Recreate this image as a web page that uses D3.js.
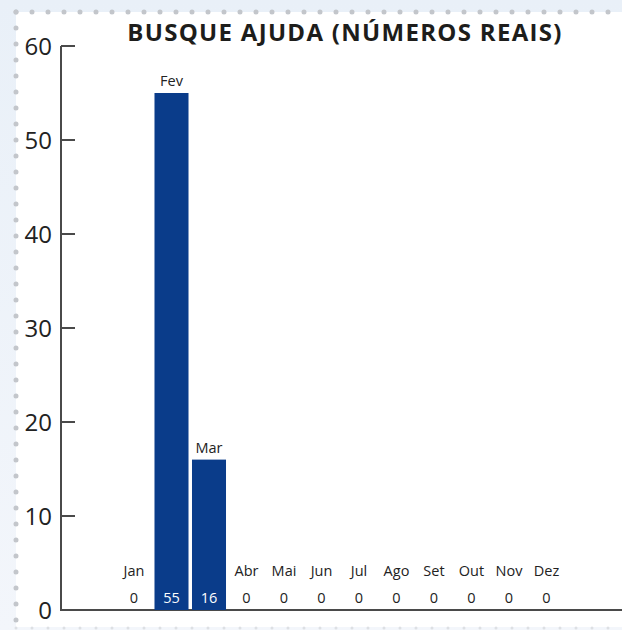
<!DOCTYPE html>
<html>
<head>
<meta charset="utf-8">
<script src="https://cdn.jsdelivr.net/npm/d3@7"></script>
<style>
    body { margin: 0; background: #fff; }
    svg { display: block; font-family: "Open Sans", sans-serif; }
</style>
</head>
<body>
<div id="chart"></div>
<script>
// data
const months = ["Jan", "Fev", "Mar", "Abr", "Mai", "Jun", "Jul", "Ago", "Set", "Out", "Nov", "Dez"]
const counts = [0, 55, 16, 0, 0, 0, 0, 0, 0, 0, 0, 0]
const yTicks = [0, 10, 20, 30, 40, 50, 60]
const title = "BUSQUE AJUDA (NÚMEROS REAIS)"

const W = 622, H = 630
const BLUE = "#0a3c8a"

let data = months.map((m, i) => ({ month: m, value: counts[i] }))

let svg = d3.select("#chart").append("svg")
    .attr("width", W)
    .attr("height", H)

// soft blue page background
let grad = svg.append("defs").append("linearGradient")
    .attr("id", "bg").attr("x1", 0).attr("y1", 0).attr("x2", 0).attr("y2", 1)
grad.append("stop").attr("offset", "0%").attr("stop-color", "#e9f0f8")
grad.append("stop").attr("offset", "100%").attr("stop-color", "#f3f6fb")
svg.append("rect").attr("width", W).attr("height", H).attr("fill", "url(#bg)")

// white panel with dotted edge
svg.append("rect")
    .attr("x", 16).attr("y", 12)
    .attr("width", W - 16).attr("height", 615)
    .attr("fill", "#fff")

svg.append("line")
    .attr("x1", 16).attr("x2", W).attr("y1", 12).attr("y2", 12)
    .attr("stroke", "#c3c6cb").attr("stroke-width", 5)
    .attr("stroke-linecap", "round").attr("stroke-dasharray", "0 16")
svg.append("line")
    .attr("x1", 16).attr("x2", 16).attr("y1", 12).attr("y2", 627)
    .attr("stroke", "#c3c6cb").attr("stroke-width", 5)
    .attr("stroke-linecap", "round").attr("stroke-dasharray", "0 16")
svg.append("line")
    .attr("x1", 16).attr("x2", W).attr("y1", 628).attr("y2", 628)
    .attr("stroke", "#dde0e4").attr("stroke-width", 3)
    .attr("stroke-linecap", "round").attr("stroke-dasharray", "0 16")

// title
svg.append("text")
    .attr("x", 345).attr("y", 41)
    .attr("text-anchor", "middle")
    .attr("font-size", "24px")
    .attr("font-weight", "bold")
    .attr("letter-spacing", "1.3px")
    .attr("fill", "#1d1d1b")
    .text(title)

// scales
let y = d3.scaleLinear().domain([0, 60]).range([610, 46])
let x = d3.scaleBand().domain(months)
    .range([115.25, 565.25])
    .paddingInner(0.093)
    .paddingOuter(0.0465)

// axes
svg.append("line")
    .attr("x1", 61).attr("x2", 61)
    .attr("y1", y(60)).attr("y2", y(0))
    .attr("stroke", "#4a4a4a").attr("stroke-width", 2)

svg.append("line")
    .attr("x1", 60).attr("x2", W)
    .attr("y1", y(0)).attr("y2", y(0))
    .attr("stroke", "#4a4a4a").attr("stroke-width", 2)

let tick = svg.selectAll(".tick").data(yTicks).enter().append("g")
    .attr("class", "tick")
tick.append("line")
    .attr("x1", 61).attr("x2", 75)
    .attr("y1", d => y(d)).attr("y2", d => y(d))
    .attr("stroke", "#4a4a4a").attr("stroke-width", 2)
tick.append("text")
    .attr("x", 52).attr("y", d => y(d))
    .attr("dy", "0.36em")
    .attr("text-anchor", "end")
    .attr("font-size", "24px")
    .attr("fill", "#222")
    .text(d => d)

// bars
svg.selectAll(".bar").data(data.filter(d => d.value > 0)).enter().append("rect")
    .attr("class", "bar")
    .attr("x", d => x(d.month))
    .attr("y", d => y(d.value))
    .attr("width", x.bandwidth())
    .attr("height", d => y(0) - y(d.value))
    .attr("fill", BLUE)

// month labels (above bar, or above the value when empty)
svg.selectAll(".month").data(data).enter().append("text")
    .attr("class", "month")
    .attr("x", d => x(d.month) + x.bandwidth() / 2)
    .attr("y", d => d.value > 0 ? y(d.value) - 7 : y(0) - 34)
    .attr("text-anchor", "middle")
    .attr("font-size", "14.5px")
    .attr("fill", "#222")
    .text(d => d.month)

// value labels at the bottom
svg.selectAll(".value").data(data).enter().append("text")
    .attr("class", "value")
    .attr("x", d => x(d.month) + x.bandwidth() / 2)
    .attr("y", y(0) - 7)
    .attr("text-anchor", "middle")
    .attr("font-size", "14.5px")
    .attr("fill", d => d.value > 0 ? "#fff" : "#222")
    .text(d => d.value)
</script>
</body>
</html>
